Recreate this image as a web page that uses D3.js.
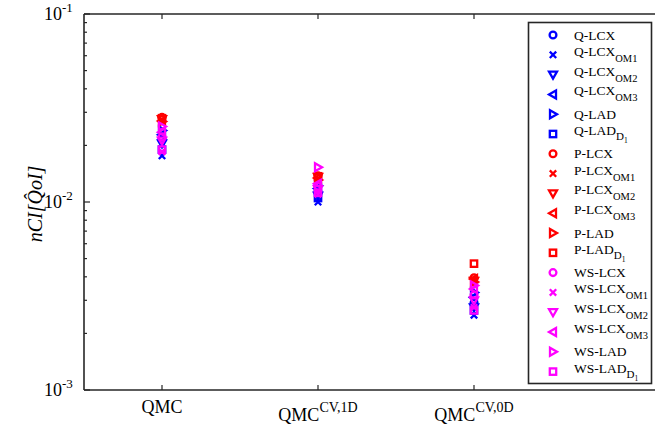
<!DOCTYPE html>
<html><head><meta charset="utf-8">
<script src="https://cdn.jsdelivr.net/npm/d3@7"></script>
<style>body{margin:0;background:#fff;}svg{display:block;}</style>
</head><body><svg id="c" width="655" height="428"></svg>
<script>
const categories = ["QMC", "QMC|CV,1D", "QMC|CV,0D"];
const seriesNames = ["Q-LCX","Q-LCX_OM1","Q-LCX_OM2","Q-LCX_OM3","Q-LAD","Q-LAD_D1",
  "P-LCX","P-LCX_OM1","P-LCX_OM2","P-LCX_OM3","P-LAD","P-LAD_D1",
  "WS-LCX","WS-LCX_OM1","WS-LCX_OM2","WS-LCX_OM3","WS-LAD","WS-LAD_D1"];
const seriesColors = ["#0000ff","#0000ff","#0000ff","#0000ff","#0000ff","#0000ff",
  "#ff0000","#ff0000","#ff0000","#ff0000","#ff0000","#ff0000",
  "#ff00ff","#ff00ff","#ff00ff","#ff00ff","#ff00ff","#ff00ff"];
const seriesMarkers = ["circle","x","tridown","trileft","triright","square",
  "circle","x","tridown","trileft","triright","square",
  "circle","x","tridown","trileft","triright","square"];
// values per series: [QMC, QMC CV,1D, QMC CV,0D]
const valQLCX    = [0.0215, 0.0113, 0.00290];
const valQLCXOM1 = [0.0176, 0.0100, 0.00250];
const valQLCXOM2 = [0.0205, 0.0108, 0.00275];
const valQLCXOM3 = [0.0228, 0.0118, 0.00310];
const valQLAD    = [0.0240, 0.0122, 0.00330];
const valQLADD1  = [0.0190, 0.0105, 0.00265];
const valPLCX    = [0.0282, 0.0138, 0.00395];
const valPLCXOM1 = [0.0272, 0.0133, 0.00385];
const valPLCXOM2 = [0.0276, 0.0136, 0.00380];
const valPLCXOM3 = [0.0270, 0.0134, 0.00390];
const valPLAD    = [0.0268, 0.0131, 0.00375];
const valPLADD1  = [0.0279, 0.0137, 0.00470];
const valWSLCX    = [0.0222, 0.0121, 0.00320];
const valWSLCXOM1 = [0.0185, 0.0110, 0.00275];
const valWSLCXOM2 = [0.0212, 0.0117, 0.00300];
const valWSLCXOM3 = [0.0235, 0.0125, 0.00345];
const valWSLAD    = [0.0252, 0.0153, 0.00360];
const valWSLADD1  = [0.0190, 0.0112, 0.00265];
const seriesValues = [valQLCX,valQLCXOM1,valQLCXOM2,valQLCXOM3,valQLAD,valQLADD1,
  valPLCX,valPLCXOM1,valPLCXOM2,valPLCXOM3,valPLAD,valPLADD1,
  valWSLCX,valWSLCXOM1,valWSLCXOM2,valWSLCXOM3,valWSLAD,valWSLADD1];
const yTicks = [1e-3, 1e-2, 1e-1];
const yTickExp = ["-3","-2","-1"];

const svg = d3.select("#c");
const L = 84, T = 14, B = 390, R = 708;
const x = d3.scaleLinear().domain([0.5, 4.5]).range([L, R]);
const y = d3.scaleLog().domain([1e-3, 1e-1]).range([B, T]);
const axisColor = "#262626";
const serif = "'Liberation Serif','Times New Roman',serif";

// axes box
const g = svg.append("g");
g.append("line").attr("x1",L).attr("x2",R).attr("y1",B).attr("y2",B).attr("stroke",axisColor).attr("stroke-width",1.6);
g.append("line").attr("x1",L).attr("x2",R).attr("y1",T).attr("y2",T).attr("stroke",axisColor).attr("stroke-width",1.6);
g.append("line").attr("x1",L).attr("x2",L).attr("y1",T).attr("y2",B).attr("stroke",axisColor).attr("stroke-width",1.6);

// y ticks (major + minor)
const minor = [];
for (let e = -3; e < -1; e++) for (let m = 2; m <= 9; m++) minor.push(m * Math.pow(10, e));
minor.forEach(v => g.append("line").attr("x1",L).attr("x2",L+3).attr("y1",y(v)).attr("y2",y(v)).attr("stroke",axisColor).attr("stroke-width",1.2));
yTicks.forEach(v => g.append("line").attr("x1",L).attr("x2",L+6).attr("y1",y(v)).attr("y2",y(v)).attr("stroke",axisColor).attr("stroke-width",1.2));
yTicks.forEach((v,i) => {
  g.append("text").attr("x", 62).attr("y", y(v)+6).attr("text-anchor","end")
    .attr("font-family", serif).attr("font-size", 18).attr("fill","#000").text("10");
  g.append("text").attr("x", 62).attr("y", y(v)-2).attr("font-family", serif).attr("font-size", 13).attr("fill","#000").text(yTickExp[i]);
});

// x ticks
categories.forEach((c,i) => {
  const xx = x(i+1);
  g.append("line").attr("x1",xx).attr("x2",xx).attr("y1",B).attr("y2",B-5).attr("stroke",axisColor).attr("stroke-width",1.2);
  g.append("line").attr("x1",xx).attr("x2",xx).attr("y1",T).attr("y2",T+5).attr("stroke",axisColor).attr("stroke-width",1.2);
  const parts = c.split("|");
  const t = g.append("text").attr("x", xx).attr("text-anchor","middle")
    .attr("font-family", serif).attr("font-size", 18).attr("fill","#000");
  if (parts.length === 1) {
    t.attr("y", 413).text(parts[0]);
  } else {
    t.attr("y", 421);
    t.append("tspan").text(parts[0]);
    t.append("tspan").attr("dy", -9).attr("font-size", 14).text(parts[1]);
  }
});

// y label
const yl = g.append("text").attr("transform","translate(42,204) rotate(-90)").attr("text-anchor","middle")
  .attr("font-family", serif).attr("font-style","italic").attr("font-size", 20).attr("fill","#000");
yl.append("tspan").text("nCI[");
yl.append("tspan").text("Q\u0302");
yl.append("tspan").text("oI]");

// marker drawing
function drawMarker(sel, type, cx, cy, color) {
  const s = 4;
  let el;
  if (type === "circle") el = sel.append("circle").attr("cx",cx).attr("cy",cy).attr("r",3.4);
  else if (type === "square") el = sel.append("rect").attr("x",cx-3.2).attr("y",cy-3.2).attr("width",6.4).attr("height",6.4);
  else if (type === "x") el = sel.append("path").attr("d",`M${cx-s+0.8},${cy-s+0.8}L${cx+s-0.8},${cy+s-0.8}M${cx-s+0.8},${cy+s-0.8}L${cx+s-0.8},${cy-s+0.8}`);
  else if (type === "tridown") el = sel.append("path").attr("d",`M${cx-s},${cy-s+1}L${cx+s},${cy-s+1}L${cx},${cy+s}Z`);
  else if (type === "trileft") el = sel.append("path").attr("d",`M${cx+s-1},${cy-s}L${cx+s-1},${cy+s}L${cx-s},${cy}Z`);
  else if (type === "triright") el = sel.append("path").attr("d",`M${cx-s+1},${cy-s}L${cx-s+1},${cy+s}L${cx+s},${cy}Z`);
  el.attr("fill","none").attr("stroke",color).attr("stroke-width",2.3);
}

const pts = svg.append("g");
seriesValues.forEach((vals, si) => {
  vals.forEach((v, ci) => drawMarker(pts, seriesMarkers[si], x(ci+1), y(v), seriesColors[si]));
});

// legend
const lg = svg.append("g");
lg.append("rect").attr("x",528.5).attr("y",22.5).attr("width",123).attr("height",361)
  .attr("fill","#fff").attr("stroke",axisColor).attr("stroke-width",1.6);
seriesNames.forEach((n, i) => {
  const ly = 35 + i * 19.8;
  drawMarker(lg, seriesMarkers[i], 553, ly, seriesColors[i]);
  const parts = n.split("_");
  const t = lg.append("text").attr("x", 574).attr("font-family", serif).attr("font-size", 13.5).attr("fill","#000");
  if (parts.length === 1) {
    t.attr("y", ly + 4.5).text(parts[0]);
  } else {
    t.attr("y", ly + 1);
    t.append("tspan").text(parts[0]);
    if (parts[1] === "D1") {
      t.append("tspan").attr("dy", 5).attr("font-size", 11).text("D");
      t.append("tspan").attr("dy", 3).attr("font-size", 7.5).text("1");
    } else {
      t.append("tspan").attr("dy", 6).attr("font-size", 10.5).text(parts[1]);
    }
  }
});
</script></body></html>
